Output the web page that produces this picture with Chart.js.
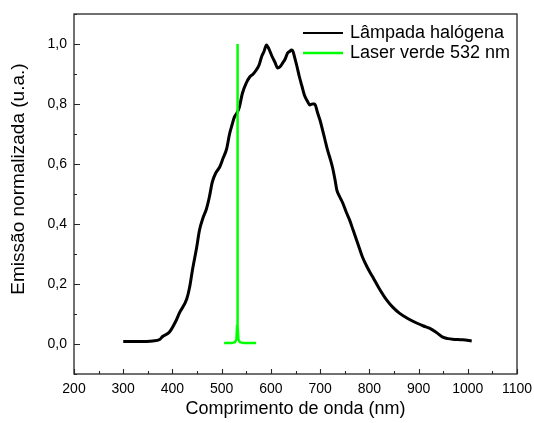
<!DOCTYPE html>
<html>
<head>
<meta charset="utf-8">
<script src="https://cdn.jsdelivr.net/npm/chart.js@4.4.1/dist/chart.umd.min.js"></script>
<style>
  html, body { margin: 0; padding: 0; background: #fff; }
  #wrap { width: 534px; height: 423px; }
</style>
</head>
<body>
<div id="wrap"><canvas id="c" width="534" height="423"></canvas></div>
<script>
// ---- Data ----
const seriesLabels = ["Lâmpada halógena", "Laser verde 532 nm"];
const lampWavelength = [300, 330, 360, 374, 380, 394, 408, 414, 429, 435, 441, 449, 455, 462, 469, 475, 481, 488, 496, 503, 510, 516, 521, 526, 531, 536, 542, 550, 557, 564, 571, 576, 581, 586, 591, 594, 597, 602, 608, 614, 619, 624, 629, 634, 638, 642, 645, 648, 653, 658, 663, 668, 674, 679, 684, 689, 695, 700, 705, 710, 715, 720, 725, 730, 734, 740, 746, 753, 760, 767, 774, 780, 786, 796, 807, 820, 835, 848, 861, 878, 896, 910, 922, 935, 949, 960, 969, 990, 1008];
const lampValues = [0.008, 0.008, 0.010, 0.015, 0.025, 0.04, 0.08, 0.103, 0.15, 0.19, 0.25, 0.32, 0.38, 0.42, 0.45, 0.49, 0.54, 0.57, 0.59, 0.62, 0.65, 0.70, 0.73, 0.757, 0.77, 0.79, 0.835, 0.87, 0.89, 0.90, 0.915, 0.93, 0.957, 0.975, 0.997, 0.99, 0.98, 0.96, 0.94, 0.92, 0.925, 0.937, 0.95, 0.97, 0.975, 0.98, 0.975, 0.957, 0.925, 0.89, 0.86, 0.83, 0.81, 0.797, 0.80, 0.80, 0.77, 0.745, 0.713, 0.68, 0.647, 0.62, 0.59, 0.55, 0.513, 0.49, 0.47, 0.44, 0.413, 0.38, 0.347, 0.318, 0.29, 0.255, 0.223, 0.185, 0.147, 0.122, 0.103, 0.085, 0.07, 0.06, 0.053, 0.04, 0.023, 0.018, 0.016, 0.014, 0.01];
const laserWavelength = [505, 520, 527, 530, 531.3, 532, 532.7, 534, 537, 545, 570];
const laserValues = [0.003, 0.003, 0.006, 0.015, 0.06, 1.0, 0.06, 0.015, 0.006, 0.003, 0.003];
const xTicks = [200, 300, 400, 500, 600, 700, 800, 900, 1000, 1100];
const xMinorTicks = [250, 350, 450, 550, 650, 750, 850, 950, 1050];
const yTicks = [0.0, 0.2, 0.4, 0.6, 0.8, 1.0];
const yMinorTicks = [-0.1, 0.1, 0.3, 0.5, 0.7, 0.9, 1.1];
const xTitle = "Comprimento de onda (nm)";
const yTitle = "Emissão normalizada (u.a.)";

const lampColor = "#000000";
const laserColor = "#00ff00";
const FONT = "'Liberation Sans', Arial, sans-serif";

const toPts = (xs, ys) => xs.map((x, i) => ({ x: x, y: ys[i] }));

const framePlugin = {
  id: 'frame',
  afterDatasetsDraw(chart) {
    const ctx = chart.ctx;
    const a = chart.chartArea;
    const xs = chart.scales.x, ys = chart.scales.y;
    ctx.save();
    ctx.strokeStyle = '#262626';
    ctx.lineWidth = 1.3;
    ctx.strokeRect(a.left, a.top, a.right - a.left, a.bottom - a.top);
    ctx.lineWidth = 1.1;
    ctx.beginPath();
    xTicks.forEach(v => { const p = Math.round(xs.getPixelForValue(v)) + 0.5; ctx.moveTo(p, a.bottom); ctx.lineTo(p, a.bottom - 5); });
    xMinorTicks.forEach(v => { const p = Math.round(xs.getPixelForValue(v)) + 0.5; ctx.moveTo(p, a.bottom); ctx.lineTo(p, a.bottom - 3); });
    yTicks.forEach(v => { const p = Math.round(ys.getPixelForValue(v)) + 0.5; ctx.moveTo(a.left, p); ctx.lineTo(a.left + 6, p); });
    yMinorTicks.forEach(v => { const p = Math.round(ys.getPixelForValue(v)) + 0.5; ctx.moveTo(a.left, p); ctx.lineTo(a.left + 3, p); });
    ctx.stroke();

    // y-axis title
    ctx.save();
    ctx.fillStyle = '#000';
    ctx.font = "19px " + FONT;
    ctx.textAlign = 'center';
    ctx.textBaseline = 'middle';
    ctx.translate(19, 179);
    ctx.rotate(-Math.PI / 2);
    ctx.fillText(yTitle, 0, 0);
    ctx.restore();

    // legend (inside plot, top right)
    const items = [
      { label: seriesLabels[0], color: lampColor, w: 2 },
      { label: seriesLabels[1], color: laserColor, w: 2.5 }
    ];
    ctx.font = "18px " + FONT;
    ctx.textBaseline = 'middle';
    ctx.textAlign = 'left';
    ctx.fillStyle = '#000';
    items.forEach((it, i) => {
      const y = 33 + i * 20;
      ctx.strokeStyle = it.color;
      ctx.lineWidth = it.w;
      ctx.beginPath();
      ctx.moveTo(303, y);
      ctx.lineTo(343, y);
      ctx.stroke();
      ctx.fillText(it.label, 350, y);
    });
    ctx.restore();
  }
};

new Chart(document.getElementById('c'), {
  type: 'scatter',
  data: {
    datasets: [
      {
        label: seriesLabels[1],
        data: toPts(laserWavelength, laserValues),
        showLine: true,
        borderColor: laserColor,
        backgroundColor: laserColor,
        borderWidth: 2.5,
        pointRadius: 0,
        tension: 0,
        order: 0
      },
      {
        label: seriesLabels[0],
        data: toPts(lampWavelength, lampValues),
        showLine: true,
        borderColor: lampColor,
        backgroundColor: lampColor,
        borderWidth: 3,
        pointRadius: 0,
        cubicInterpolationMode: 'monotone',
        order: 1
      }
    ]
  },
  options: {
    responsive: false,
    animation: false,
    events: [],
    layout: { padding: { top: 14, right: 17, left: 0, bottom: 0 } },
    plugins: { legend: { display: false }, tooltip: { enabled: false } },
    scales: {
      x: {
        type: 'linear',
        min: 200, max: 1100,
        grid: { display: false, drawTicks: false },
        border: { display: false },
        afterBuildTicks: s => { s.ticks = xTicks.map(v => ({ value: v })); },
        afterFit: s => { s.height = 49; s.paddingRight = 0; s.paddingLeft = 0; },
        ticks: { color: '#000', font: { family: FONT, size: 14 }, padding: 7, maxRotation: 0, autoSkip: false,
          callback: v => String(v) },
        title: { display: true, text: xTitle, color: '#000', font: { family: FONT, size: 18 }, padding: { top: 0, bottom: 3 } }
      },
      y: {
        type: 'linear',
        min: -0.1, max: 1.1,
        grid: { display: false, drawTicks: false },
        border: { display: false },
        afterBuildTicks: s => { s.ticks = yTicks.map(v => ({ value: v })); },
        afterFit: s => { s.width = 74; s.paddingTop = 0; s.paddingBottom = 0; },
        ticks: { color: '#000', font: { family: FONT, size: 14 }, padding: 7, autoSkip: false,
          callback: v => Number(v).toFixed(1).replace('.', ',') },
        title: { display: false }
      }
    }
  },
  plugins: [framePlugin]
});
</script>
</body>
</html>
